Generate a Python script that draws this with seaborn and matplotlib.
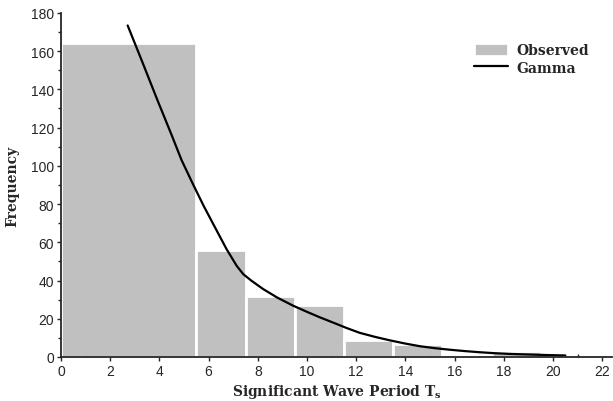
import numpy as np
import pandas as pd
import matplotlib
matplotlib.use('Agg')
import matplotlib.pyplot as plt
import seaborn as sns
from matplotlib.ticker import MultipleLocator

# observed histogram (bin edges + counts)
bin_edges = [0, 5.5, 7.5, 9.5, 11.5, 13.5, 15.5, 17.5, 19.5, 20.5]
counts = [164, 56, 32, 27, 9, 7, 1, 3, 1]

# fitted gamma curve
gamma_x = [2.71, 3.3, 3.9, 4.5, 4.9, 5.38, 5.8, 6.19, 6.73, 7.14, 7.41, 7.75,
           8.22, 8.8, 9.44, 10.0, 10.53, 11.1, 11.6, 12.15, 12.8, 13.37, 14.0,
           14.6, 15.2, 15.8, 16.4, 17.0, 17.6, 18.25, 19.0, 19.8, 20.5]
gamma_y = [173.4, 154.5, 135, 116, 103, 90, 79, 69.5, 56.4, 47.7, 43.3, 39.8,
           35.5, 31, 26.8, 23.6, 20.7, 17.8, 15.2, 12.6, 10.4, 8.7, 7.0,
           5.6, 4.6, 3.8, 3.1, 2.5, 2.0, 1.6, 1.3, 1.0, 0.8]

centers = [(a + b) / 2 for a, b in zip(bin_edges[:-1], bin_edges[1:])]
df = pd.DataFrame({'period': centers, 'count': counts})

sns.set_style('ticks')
plt.rcParams['font.family'] = ['Liberation Sans', 'DejaVu Sans']

fig = plt.figure(figsize=(6.13, 4.02), dpi=100)
ax = fig.add_axes([0.0995, 0.1095, 0.899, 0.856])

sns.histplot(data=df, x='period', weights='count', bins=bin_edges,
             color='#c0c0c0', alpha=1, edgecolor='white', linewidth=2,
             ax=ax, label='Observed')
sns.lineplot(x=gamma_x, y=gamma_y, color='black', linewidth=1.6, ax=ax,
             label='Gamma')

ax.set_xlim(0, 22.4)
ax.set_ylim(0, 180)
ax.xaxis.set_major_locator(MultipleLocator(2))
ax.xaxis.set_minor_locator(MultipleLocator(1))
ax.yaxis.set_major_locator(MultipleLocator(20))
ax.yaxis.set_minor_locator(MultipleLocator(10))
ax.tick_params(which='major', direction='out', length=3, width=1, labelsize=10, pad=2)
ax.tick_params(axis='x', which='minor', direction='in', length=2.5, width=1)
ax.tick_params(axis='y', which='minor', direction='out', length=2, width=1)
for s in ['top', 'right']:
    ax.spines[s].set_visible(False)
for s in ['left', 'bottom']:
    ax.spines[s].set_linewidth(1.3)

serif = ['DejaVu Serif']
ax.set_xlabel('Significant Wave Period T$_\\mathregular{s}$', family=serif,
              fontweight='bold', fontsize=10, labelpad=3)
ax.set_ylabel('Frequency', family=serif, fontweight='bold', fontsize=10,
              labelpad=8)

handles, labels = ax.get_legend_handles_labels()
order = [labels.index('Observed'), labels.index('Gamma')]
ax.legend([handles[i] for i in order], [labels[i] for i in order],
          loc='upper right', bbox_to_anchor=(0.98, 0.95), frameon=False,
          prop={'family': serif, 'weight': 'bold', 'size': 10},
          handlelength=2.4, handleheight=1.1, handletextpad=0.6,
          labelspacing=0.25)

fig.savefig('out.png', dpi=100)
